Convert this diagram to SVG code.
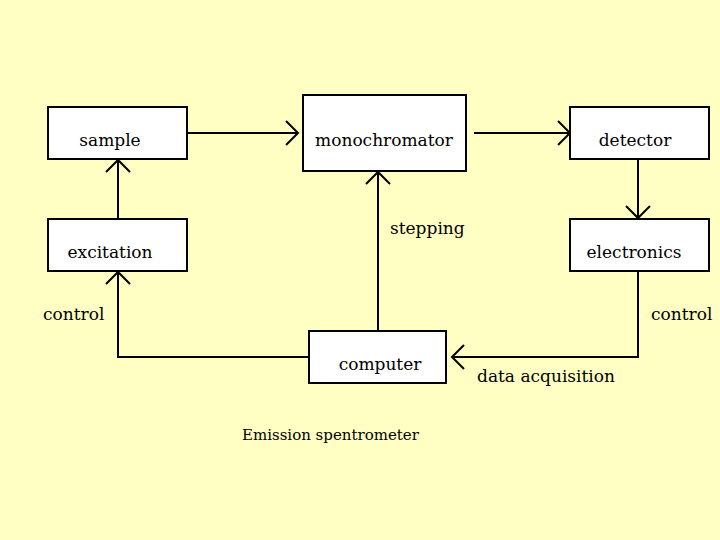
<svg xmlns="http://www.w3.org/2000/svg" width="720" height="540" viewBox="0 0 720 540">
<defs>
<style>
.box{fill:#fff;stroke:#000;stroke-width:2}
.ln{fill:none;stroke:#000;stroke-width:2}
.c{text-anchor:middle}
</style>
<marker id="a" markerUnits="userSpaceOnUse" markerWidth="30" markerHeight="30" viewBox="-15 -15 30 30" refX="0" refY="0" orient="auto">
<path d="M-12,-12 L0,0 L-12,12" fill="none" stroke="#000" stroke-width="2"/>
</marker>
</defs>
<rect width="720" height="540" fill="#FFFFC4"/>
<g id="connectors">
<path class="ln" d="M187,133 H298" marker-end="url(#a)"/>
<path class="ln" d="M474,133 H570" marker-end="url(#a)"/>
<path class="ln" d="M638,159 V218" marker-end="url(#a)"/>
<path class="ln" d="M118,219 V160" marker-end="url(#a)"/>
<path class="ln" d="M378,331 V172" marker-end="url(#a)"/>
<path class="ln" d="M309,357 H118 V272" marker-end="url(#a)"/>
<path class="ln" d="M638,272 V357 H452" marker-end="url(#a)"/>
</g>
<g font-family="'DejaVu Serif', serif" font-size="17" fill="#000">
<g id="sample"><rect class="box" x="48" y="107" width="139" height="52"/><text class="c" x="110" y="146">sample</text></g>
<g id="monochromator"><rect class="box" x="303" y="95" width="163" height="76"/><text class="c" x="384" y="146">monochromator</text></g>
<g id="detector"><rect class="box" x="570" y="107" width="139" height="52"/><text class="c" x="635" y="146">detector</text></g>
<g id="excitation"><rect class="box" x="48" y="219" width="139" height="52"/><text class="c" x="110" y="258">excitation</text></g>
<g id="electronics"><rect class="box" x="570" y="219" width="139" height="52"/><text class="c" x="634" y="258">electronics</text></g>
<g id="computer"><rect class="box" x="309" y="331" width="137" height="52"/><text class="c" x="380" y="370">computer</text></g>
<text x="390" y="234">stepping</text>
<text x="43" y="320">control</text>
<text x="651" y="320">control</text>
<text x="477" y="382">data acquisition</text>
<text x="242" y="440" font-size="15">Emission spentrometer</text>
</g>
</svg>
